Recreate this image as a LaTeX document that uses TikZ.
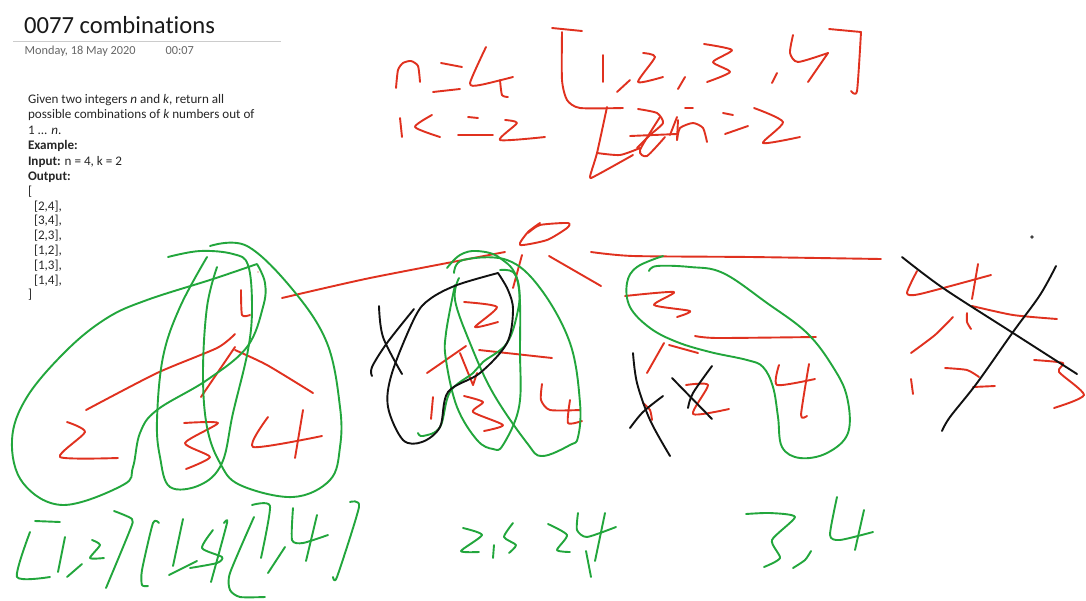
\documentclass[tikz,border=0pt]{standalone}
\usepackage{fontspec}
\setmainfont[Ligatures=NoCommon]{Carlito}
\definecolor{inkred}{HTML}{E0311F}
\definecolor{inkgreen}{HTML}{22A63C}
\definecolor{inkblack}{HTML}{111111}
\tikzset{
  pen/.style={line width=1.9pt,line cap=round,line join=round},
  redpen/.style={pen,draw=inkred},
  greenpen/.style={pen,draw=inkgreen},
  blackpen/.style={pen,draw=inkblack},
  body/.style={anchor=base west,inner sep=0pt,outer sep=0pt,font=\fontsize{13.1}{15}\selectfont,text=black!85}
}
\newcommand\rs[1]{\draw[redpen] plot[smooth,tension=.4] coordinates {#1};}
\newcommand\gs[1]{\draw[greenpen] plot[smooth,tension=.4] coordinates {#1};}
\newcommand\gl[1]{\draw[greenpen] plot[smooth,tension=.62] coordinates {#1};}
\newcommand\ks[1]{\draw[blackpen] plot[smooth,tension=.55] coordinates {#1};}
\begin{document}
\begin{tikzpicture}[x=1pt,y=-1pt]
\useasboundingbox (0,0) rectangle (1086,600);
\fill[white] (0,0) rectangle (1086,600);
% header
\node[anchor=base west,inner sep=0pt,font=\fontsize{24.6}{28}\selectfont,text=black!90] (title) at (24,33) {0077 combinations};
\coordinate (ruleL) at (13,41.5); \coordinate (ruleR) at (281,41.5);
\draw[black!20,line width=.8pt] (ruleL) -- (ruleR);
\node[anchor=base west,inner sep=0pt,font=\fontsize{12.3}{14}\selectfont,text=black!60] (date) at (24.5,54.5) {Monday, 18 May 2020};
\node[anchor=base west,inner sep=0pt,font=\fontsize{12.3}{14}\selectfont,text=black!60] (time) at (165.5,54.5) {00:07};
% problem text
\node[body] (t1) at (28,103) {Given two integers \textit{n} and \textit{k}, return all};
\node[body] (t2) at (28,118.5) {possible combinations of \textit{k} numbers out of};
\node[body] (t3) at (28,134) {1 ... \textit{n}.};
\node[body] (t4) at (28,149.5) {\textbf{Example:}};
\node[body] (t5) at (28,165) {\textbf{Input:} n = 4, k = 2};
\node[body] (t6) at (28,180) {\textbf{Output:}};
\node[body] (t7) at (28,195) {[};
\node[body] (t8) at (34,210) {[2,4],};
\node[body] (t9) at (34,224.5) {[3,4],};
\node[body] (t10) at (34,239.5) {[2,3],};
\node[body] (t11) at (34,254) {[1,2],};
\node[body] (t12) at (34,269) {[1,3],};
\node[body] (t13) at (34,284) {[1,4],};
\node[body] (t14) at (28,298.5) {]};
% top right: n=4 [1,2,3,4]
\rs{(396,88)(398,70)(403,63)(411,61)(418,66)(420,82)}
\rs{(441,63)(462,67)} \rs{(433,92)(460,89)}
\rs{(486,47)(470,83)(480,85)(513,77)} \rs{(500,80)(502,95)(508,97)}
\rs{(552,28)(582,31)} \rs{(562,32)(562,80)(567,100)(580,108)(623,108)}
\rs{(603,55)(603,82)} \rs{(630,80)(617,92)}
\rs{(643,53)(655,57)(638,82)(663,77)} \rs{(685,77)(678,89)}
\rs{(704,44)(732,50)(713,62)(730,72)(707,82)} \rs{(777,73)(772,83)}
\rs{(793,35)(790,53)(798,62)(828,53)} \rs{(828,53)(808,82)}
\rs{(829,29)(861,32)} \rs{(861,32)(857,91)(851,91)}
% k=2
\rs{(400,118)(402,137)} \rs{(432,115)(415,127)(440,137)}
\rs{(468,117)(478,118)} \rs{(458,135)(493,135)}
\rs{(505,120)(517,123)(500,140)(545,137)}
% scribble
\rs{(607,107)(597,153)(590,177)(597,175)(633,155)}
\rs{(597,153)(620,155)(640,148)}
\rs{(638,109)(657,113)(663,123)(650,135)(637,148)}
\rs{(630,136)(677,134)}
\rs{(660,117)(640,150)(647,156)(665,137)}
\rs{(677,117)(670,135)} \rs{(678,120)(677,140)}
\rs{(677,140)(680,128)(693,123)(703,128)(707,142)}
\rs{(685,108)(693,108)}
\rs{(723,113)(733,115)} \rs{(725,134)(748,126)}
\rs{(754,108)(783,122)(763,143)(800,137)}
% tree top
\rs{(540,223)(528,232)(520,245)(547,240)(567,228)(568,223)(540,225)(528,233)}
\rs{(522,255)(513,288)}
\rs{(549,256)(601,286)}
\rs{(282,298)(370,278)(505,252)}
\rs{(591,252)(633,256)(750,257)(881,259)}
% left subtree
\rs{(241,290)(242,315)(250,315)}
\rs{(235,334)(217,348)(157,373)(86,410)}
\rs{(235,347)(201,397)}
\rs{(235,350)(267,365)(313,393)}
\rs{(67,422)(85,432)(60,457)(118,458)}
\rs{(184,423)(218,423)(185,443)(210,457)(186,469)}
\rs{(268,417)(253,447)(322,436)} \rs{(303,410)(295,458)}
\fill[inkred] (258,272) circle (.7);
\gl{(257,264)(213,279)(147,300)(107,318)(67,350)(27,397)(12,440)(23,483)(63,505)(123,485)(133,467)(140,433)(157,410)(207,380)(247,347)(263,307)(265,283)(257,264)}
\gl{(168,257)(200,251)(233,254)(248,265)(252,307)(248,350)(233,413)(222,463)(200,485)(170,487)(160,457)(157,420)(163,357)(180,307)(207,257)}
\gl{(210,246)(247,246)(293,290)(327,343)(340,407)(340,447)(330,480)(293,497)(240,485)(220,463)(207,427)(203,373)(207,307)(217,267)}
% result [1,2] [1,3] [1,4]
\gs{(35,521)(60,522)} \gs{(30,532)(17,577)(50,577)}
\gs{(65,537)(58,572)} \gs{(82,564)(67,577)}
\gs{(92,540)(100,545)(90,558)(104,558)}
\gs{(114,511)(132,519)(130,530)(106,588)}
\gs{(159,523)(153,523)(142,570)(142,585)(148,586)}
\gs{(183,519)(173,566)} \gs{(197,561)(169,575)}
\gs{(213,530)(202,548)(222,557)(217,563)(190,568)}
\gs{(224,523)(227,523)(211,582)}
\gs{(254,517)(230,573)(230,590)(240,597)(265,597)}
\gs{(252,505)(270,506)(261,558)}
\gs{(285,547)(268,573)}
\gs{(293,508)(292,540)(303,543)(328,535)} \gs{(317,515)(306,561)}
\gs{(350,502)(359,507)(337,577)(333,577)}
% middle subtree
\rs{(464,302)(497,307)(475,327)(498,322)}
\rs{(427,373)(466,346)}
\rs{(460,353)(473,385)} \rs{(477,373)(473,385)}
\rs{(479,350)(552,358)}
\rs{(433,397)(431,419)}
\rs{(464,396)(483,402)(473,412)(503,425)(484,431)}
\rs{(542,384)(541,400)(550,410)(580,410)} \rs{(570,400)(568,423)(582,421)}
\gl{(418,433)(423,436)(440,427)(450,392)(473,373)(483,362)(507,343)(518,310)(519,287)(513,272)(500,270)}
\gl{(454,273)(463,260)(507,260)(540,288)(570,343)(580,403)(578,437)(570,445)(542,456)(527,443)(493,393)(470,343)(455,300)(459,278)}
\gl{(447,268)(460,255)(477,251)(500,258)(518,283)(520,353)(519,407)(503,445)(493,449)(477,440)(457,407)(446,360)(446,333)(455,285)}
\ks{(498,273)(457,285)(430,299)(415,317)(392,373)(388,407)(403,440)(422,442)(440,427)(448,392)(480,373)(507,343)(513,310)(508,290)(498,273)}
\ks{(379,306)(383,337)(402,374)}
\ks{(414,309)(387,343)(372,367)(372,376)}
% right subtree
\rs{(625,296)(674,292)(654,305)(690,311)(677,317)}
\rs{(695,336)(717,338)(816,337)}
\rs{(664,343)(647,373)}
\rs{(669,345)(698,353)}
\rs{(686,385)(708,385)(693,414)(729,409)}
\rs{(779,365)(777,385)(815,379)} \rs{(809,364)(801,415)(807,416)}
\rs{(643,403)(650,410)(652,420)}
\gl{(663,256)(637,267)(627,283)(630,307)(650,328)(677,342)(710,352)(747,360)(763,367)(773,387)(778,417)(782,447)(800,458)(827,453)(848,433)(847,397)(833,367)(807,333)(767,303)(723,273)(690,267)(657,266)(649,271)}
\ks{(633,353)(637,383)(650,420)(670,456)}
\ks{(663,396)(643,412)(630,428)}
\ks{(672,378)(712,419)}
\ks{(712,366)(693,393)(688,408)}
% far right
\rs{(917,271)(907,293)(920,294)(991,275)} \rs{(978,264)(972,299)}
\rs{(972,306)(1013,315)(1057,319)}
\rs{(953,317)(935,335)(911,353)}
\rs{(967,313)(967,322)(971,329)}
\rs{(911,379)(913,394)}
\rs{(945,368)(967,370)(979,377)}
\rs{(973,387)(995,386)}
\rs{(1034,360)(1063,363)(1059,372)(1084,395)(1054,408)}
\ks{(902,257)(943,288)(1013,333)(1077,374)}
\ks{(1056,266)(1040,295)(1013,332)(977,383)(950,417)(942,431)}
\fill[black!75] (1032,237) circle (1.8);
% results 2,3 2,4 3,4
\gs{(463,528)(482,535)(461,551)(479,552)}
\gs{(494,545)(493,558)}
\gs{(513,523)(504,537)(516,545)(509,553)}
\gs{(548,524)(567,535)(557,550)(570,552)}
\gs{(578,513)(577,530)(587,537)(616,527)} \gs{(605,513)(595,561)}
\gs{(586,551)(591,577)}
\gs{(746,514)(770,513)(795,517)(772,540)(780,558)(764,567)}
\gs{(811,551)(805,560)(793,568)}
\gs{(837,497)(830,535)(840,540)(873,532)} \gs{(864,510)(855,550)}
\end{tikzpicture}
\end{document}
